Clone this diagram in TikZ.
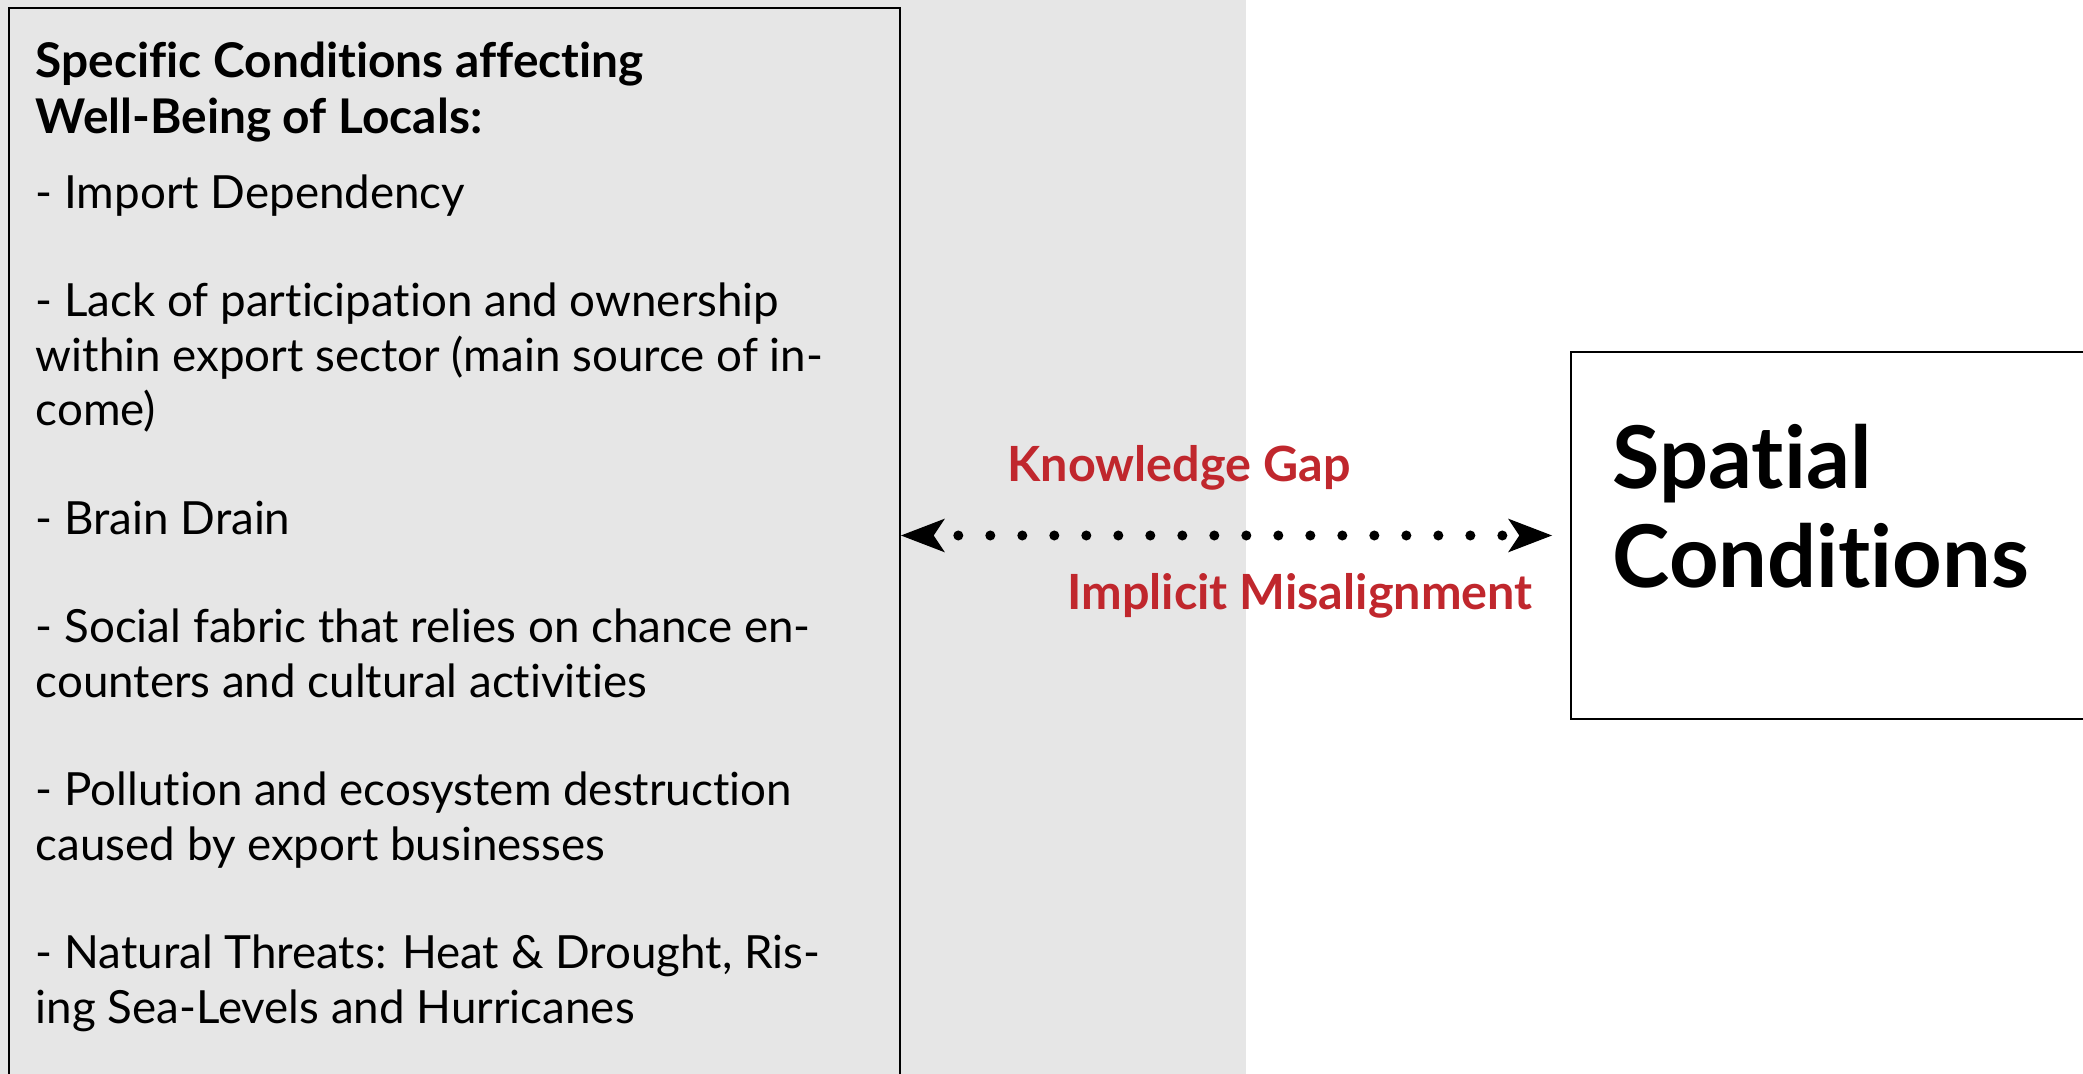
\documentclass[tikz,border=0pt]{standalone}
\usepackage{fontspec}
\setmainfont{Lato}[Ligatures=NoCommon]
\usetikzlibrary{arrows.meta}

\definecolor{panelgray}{RGB}{230,230,230}
\definecolor{gapred}{RGB}{192,39,45}

\tikzset{
  framebox/.style={draw=black, line width=0.7pt, inner sep=0pt},
  listtext/.style={anchor=base west, align=left, inner sep=0pt, font=\fontsize{13}{15.45}\selectfont},
  headtext/.style={anchor=base west, align=left, inner sep=0pt, font=\bfseries\fontsize{13.6}{16.2}\selectfont},
  gaplabel/.style={anchor=base, text=gapred, inner sep=0pt, font=\bfseries\fontsize{13.8}{15}\selectfont},
  bigtext/.style={anchor=base west, align=left, inner sep=0pt, font=\bfseries\fontsize{24.6}{28.2}\selectfont},
  gaparrow/.style={line width=2.85pt, line cap=round, dash pattern=on 0pt off 9.1pt, dash phase=2.1pt,
    arrows={Stealth[length=12.5pt,width=9.6pt,inset=3.2pt,line width=0pt]-Stealth[length=12.5pt,width=9.6pt,inset=3.2pt,line width=0pt]}}
}

\begin{document}
\begin{tikzpicture}[x=0.01cm,y=-0.01cm]

% CANVAS
\useasboundingbox (0,0) rectangle (2083,1074);
\clip (0,0) rectangle (2083,1074);
% gray panel behind the left box
\fill[panelgray] (0,0) rectangle (1246,1074);

% BOXES
% conditions of the locals (runs off the bottom)
\node[framebox, anchor=north west, minimum width=8.9cm, minimum height=12cm] (wellbeing) at (8,7) {};
% spatial conditions (runs off the right)
\node[framebox, anchor=west, minimum width=6cm, minimum height=3.67cm] (spatial) at (1570,535.5) {};

% TEXT (anchored on the baseline of the last line)
\node[headtext] (heading) at (35,134) {Specific Conditions affecting\\Well-Being of Locals:};
\node[listtext] (items) at (35,1023) {- Import Dependency\\[15.45pt]
- Lack of participation and ownership\\
within export sector (main source of in-\\
come)\\[15.45pt]
- Brain Drain\\[15.45pt]
- Social fabric that relies on chance en-\\
counters and cultural activities\\[15.45pt]
- Pollution and ecosystem destruction\\
caused by export businesses\\[15.45pt]
- Natural Threats: Heat \& Drought, Ris-\\
ing Sea-Levels and Hurricanes};
\node[bigtext] (spatialtxt) at (1612,588) {Spatial\\Conditions};

% GAP
\draw[gaparrow, shorten >=0.18cm] (wellbeing.east |- spatial.west) -- (spatial.west);
\node[gaplabel] (gaplbl) at (1179,482) {Knowledge Gap};
\node[gaplabel] (misalignlbl) at (1300,610) {Implicit Misalignment};

\end{tikzpicture}
\end{document}
